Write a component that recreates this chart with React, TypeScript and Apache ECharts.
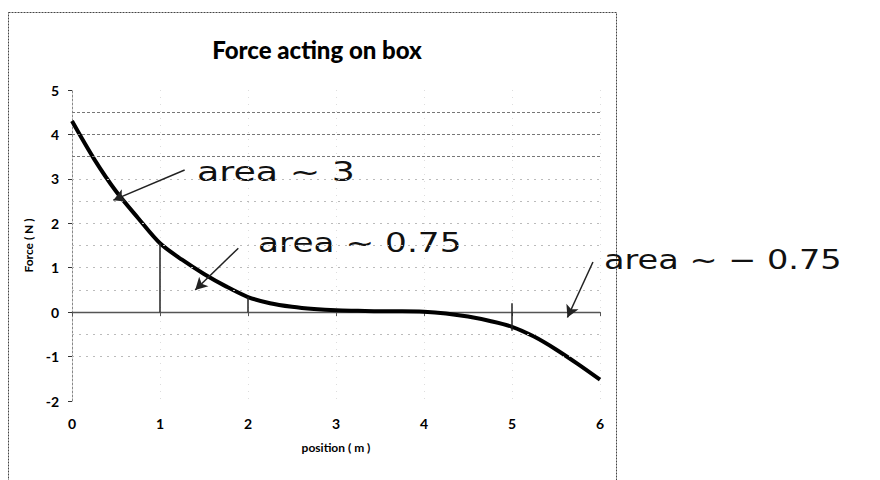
import React, { useEffect, useRef } from "react";
import * as echarts from "echarts";

const positions = [0, 0.25, 0.5, 0.75, 1, 1.25, 1.5, 1.75, 2, 2.25, 2.5, 2.75, 3, 3.25, 3.5, 3.75, 4, 4.25, 4.5, 4.75, 5, 5.25, 5.5, 5.75, 6];
const forces = [4.3, 3.45, 2.72, 2.12, 1.55, 1.18, 0.86, 0.58, 0.34, 0.2, 0.12, 0.07, 0.04, 0.03, 0.02, 0.02, 0.01, -0.03, -0.1, -0.2, -0.33, -0.55, -0.84, -1.17, -1.52];
const strongGrid = [3.5, 4, 4.5];
const faintGrid = [-1, -0.5, 0.5, 1, 1.5, 2, 2.5, 3];
// hand-drawn verticals from the axis up to the curve: [x, from, to]
const handVerticals: [number, number, number][] = [
  [1, 0, 1.55],
  [2, 0, 0.34],
  [5, 0.2, -0.42],
];
// hand-drawn arrows: [x1, y1, x2, y2]
const handArrows: [number, number, number, number][] = [
  [1.28, 3.2, 0.47, 2.52],
  [1.89, 1.44, 1.4, 0.5],
  [5.92, 1.13, 5.63, -0.12],
];
const notes = ["area ~ 3", "area ~ 0.75", "area ~ − 0.75"];
const titleText = "Force acting on box";
const xName = "position ( m )";
const yName = "Force ( N )";

export default function App() {
  const ref = useRef<HTMLDivElement>(null);
  useEffect(() => {
    if (!ref.current) return;
    const chart = echarts.init(ref.current, undefined, { renderer: "svg" });
    const data = positions.map((p, i) => [p, forces[i]]);
    const hand = "DejaVu Sans";
    chart.setOption({
      animation: false,
      backgroundColor: "#fff",
      title: {
        text: titleText,
        left: 312,
        top: 32,
        textAlign: "center",
        textStyle: { fontFamily: "Lato", fontWeight: 900, fontSize: 24, color: "#000" },
      },
      grid: { left: 72, right: 280, top: 90, bottom: 79 },
      xAxis: [
        {
          type: "value",
          min: 0,
          max: 6,
          interval: 1,
          name: xName,
          nameLocation: "middle",
          nameGap: 40,
          nameTextStyle: { fontFamily: "Lato", fontWeight: "bold", fontSize: 12, color: "#000" },
          axisLine: { show: false, onZero: false },
          axisTick: { show: false },
          axisLabel: { margin: 15, fontFamily: "Lato", fontWeight: "bold", fontSize: 14, color: "#000" },
          splitLine: { show: true, lineStyle: { color: "#ddd", type: [1, 6], width: 1 } },
        },
        {
          type: "value",
          min: 0,
          max: 6,
          interval: 1,
          position: "bottom",
          axisLine: { show: true, onZero: true, lineStyle: { color: "#555", width: 1.3 } },
          axisTick: { show: true, length: 4, inside: false, lineStyle: { color: "#555" } },
          axisLabel: { show: false },
          splitLine: { show: false },
        },
      ],
      yAxis: {
        type: "value",
        min: -2,
        max: 5,
        interval: 1,
        name: yName,
        nameLocation: "middle",
        nameGap: 31,
        nameTextStyle: { fontFamily: "Lato", fontWeight: "bold", fontSize: 12, color: "#000" },
        axisLine: { show: true, onZero: false, lineStyle: { color: "#888", type: [2, 2], width: 1 } },
        axisTick: { show: true, length: 4, lineStyle: { color: "#333" } },
        axisLabel: { margin: 13, fontFamily: "Lato", fontWeight: "bold", fontSize: 14, color: "#000" },
        splitLine: { show: false },
      },
      series: [
        {
          type: "line",
          name: "grid",
          data: [],
          silent: true,
          markLine: {
            silent: true,
            symbol: "none",
            label: { show: false },
            data: [
              ...strongGrid.map((v) => ({ yAxis: v, lineStyle: { color: "#777", type: [3, 2], width: 1 } })),
              ...faintGrid.map((v) => ({ yAxis: v, lineStyle: { color: "#bbb", type: [2, 5], width: 1 } })),
            ],
          },
        },
        {
          type: "line",
          name: "force",
          data,
          smooth: 0.3,
          showSymbol: false,
          lineStyle: { color: "#000", width: 4 },
          markLine: {
            silent: true,
            symbol: "none",
            label: { show: false },
            lineStyle: { color: "#222", width: 1.5, type: "solid" },
            data: [
              ...handVerticals.map(([x, a, b]) => [{ coord: [x, a] }, { coord: [x, b] }]),
              ...handArrows.map(([x1, y1, x2, y2]) => [
                { coord: [x1, y1], symbol: "none" },
                { coord: [x2, y2], symbol: "arrow", symbolSize: [10, 12] },
              ]),
            ],
          },
        },
      ],
      graphic: [
        {
          type: "rect",
          shape: { x: 8.5, y: 12.5, width: 608, height: 480 },
          style: { fill: "none", stroke: "#444", lineWidth: 1, lineDash: [2, 1] },
          silent: true,
        },
        {
          type: "text",
          x: 197,
          y: 172,
          scaleX: 1.4,
          style: { text: notes[0], fontFamily: hand, fontSize: 26, fontWeight: "normal", fill: "#111", verticalAlign: "middle" },
        },
        {
          type: "text",
          x: 258,
          y: 243,
          scaleX: 1.32,
          style: { text: notes[1], fontFamily: hand, fontSize: 26, fontWeight: "normal", fill: "#111", verticalAlign: "middle" },
        },
        {
          type: "text",
          x: 604,
          y: 260,
          scaleX: 1.29,
          style: { text: notes[2], fontFamily: hand, fontSize: 26, fontWeight: "normal", fill: "#111", verticalAlign: "middle" },
        },
      ],
    });
    return () => chart.dispose();
  }, []);
  return <div ref={ref} style={{ position: "fixed", left: 0, top: 0, width: 880, height: 480 }} />;
}
